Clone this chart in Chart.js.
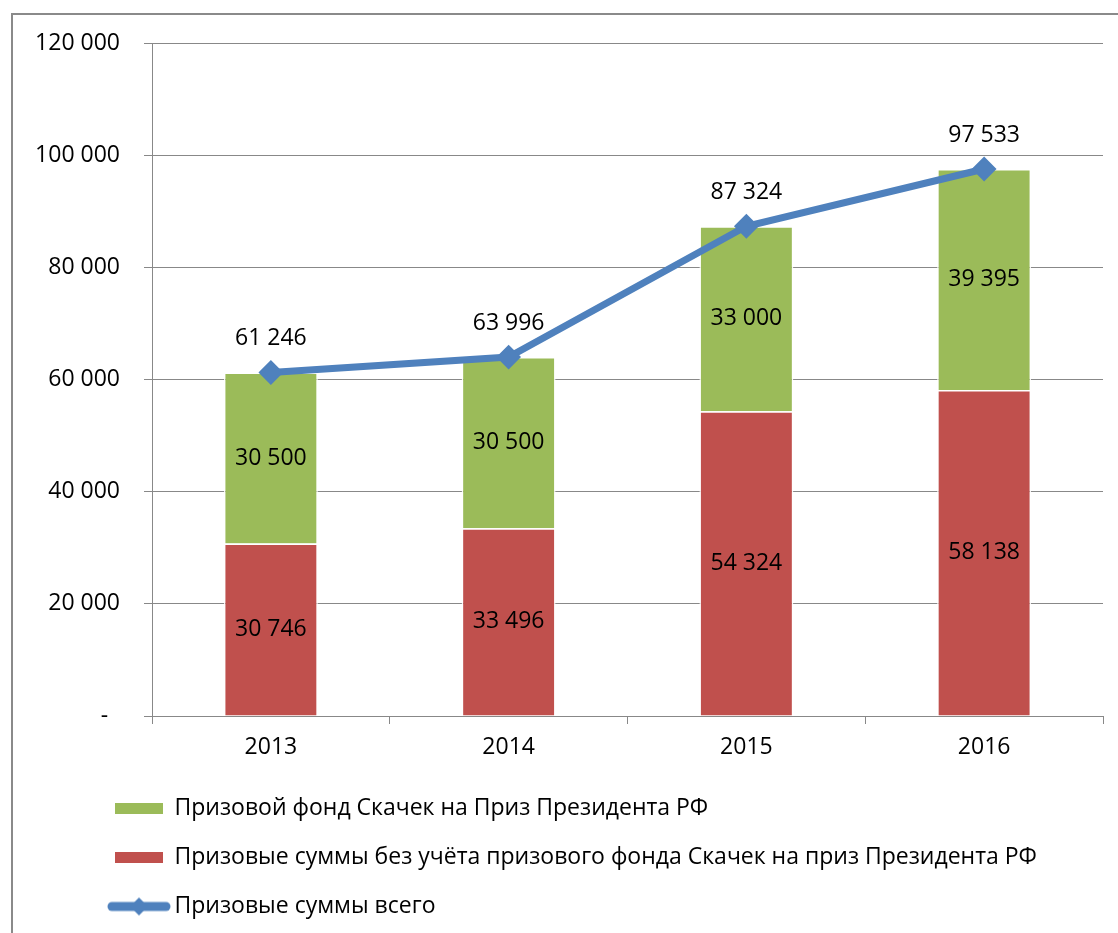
<!DOCTYPE html>
<html>
<head>
<meta charset="utf-8">
<script src="https://cdn.jsdelivr.net/npm/chart.js@4"></script>
<style>
  html, body { margin: 0; padding: 0; background: #fff; overflow: hidden; }
  #wrap { position: relative; width: 1118px; height: 933px; }
  #frame { position: absolute; left: 11px; top: 13px; width: 1200px; height: 1000px; border: 2px solid #8a8a8a; }
  #chart { position: absolute; left: 0; top: 0; }
</style>
</head>
<body>
<div id="wrap">
  <div id="frame"></div>
  <canvas id="chart" width="1118" height="933"></canvas>
</div>
<script>
//chart data
const years = ['2013', '2014', '2015', '2016'];
const withoutPresident = [30746, 33496, 54324, 58138];
const presidentFund = [30500, 30500, 33000, 39395];
const totalSums = [61246, 63996, 87324, 97533];
const yTicks = [0, 20000, 40000, 60000, 80000, 100000, 120000];

const labelGreen = 'Призовой фонд Скачек на Приз Президента РФ';
const labelRed = 'Призовые суммы без учёта призового фонда Скачек на приз Президента РФ';
const labelBlue = 'Призовые суммы всего';

const RED = '#C0504D';
const GREEN = '#9BBB59';
const BLUE = '#4F81BD';
const GRID = '#888888';
const FONT = "'Open Sans', 'Noto Sans', sans-serif";

Chart.defaults.font.family = FONT;
Chart.defaults.font.size = 23;
Chart.defaults.color = '#000';

//number with space as thousands separator
const fmt = (n) => String(n).replace(/\B(?=(\d{3})+(?!\d))/g, ' ');

//legend marker for the line series: thick line with a diamond
const lineMarker = document.createElement('canvas');
lineMarker.width = 64;
lineMarker.height = 22;
{
    const c = lineMarker.getContext('2d');
    c.strokeStyle = BLUE;
    c.lineWidth = 9;
    c.lineCap = 'round';
    c.beginPath();
    c.moveTo(5, 11);
    c.lineTo(59, 11);
    c.stroke();
    c.fillStyle = BLUE;
    c.beginPath();
    c.moveTo(32, 2);
    c.lineTo(41, 11);
    c.lineTo(32, 20);
    c.lineTo(23, 11);
    c.closePath();
    c.fill();
}

//draws the value labels
const valueLabels = {
    id: 'valueLabels',
    afterLayout(chart) {
        //move legend to the right so it starts under the axis labels
        chart.legend.left = 89;
    },
    afterDatasetsDraw(chart) {
        const ctx = chart.ctx;
        ctx.save();
        ctx.font = '23px ' + FONT;
        ctx.fillStyle = '#000';
        ctx.textAlign = 'center';
        ctx.textBaseline = 'middle';
        chart.data.datasets.forEach((ds, i) => {
            const meta = chart.getDatasetMeta(i);
            meta.data.forEach((el, j) => {
                const v = ds.data[j];
                if (meta.type === 'bar') {
                    ctx.fillText(fmt(v), el.x, (el.y + el.base) / 2);
                } else {
                    ctx.fillText(fmt(v), el.x, el.y - 34);
                }
            });
        });
        ctx.restore();
    }
};

const legendOrder = [1, 0, 2];

const chart = new Chart(document.getElementById('chart').getContext('2d'), {
    type: 'bar',
    data: {
        labels: years,
        datasets: [
            {
                label: labelRed,
                data: withoutPresident,
                backgroundColor: RED,
                borderColor: 'rgba(255,255,255,0.9)',
                borderWidth: 1.5,
                stack: 'fund',
                pointStyle: 'rect',
                barPercentage: 0.395,
                categoryPercentage: 1,
            },
            {
                label: labelGreen,
                data: presidentFund,
                backgroundColor: GREEN,
                borderColor: 'rgba(255,255,255,0.9)',
                borderWidth: 1.5,
                stack: 'fund',
                pointStyle: 'rect',
                barPercentage: 0.395,
                categoryPercentage: 1,
            },
            {
                type: 'line',
                label: labelBlue,
                data: totalSums,
                borderColor: BLUE,
                backgroundColor: BLUE,
                borderWidth: 7,
                pointStyle: 'rectRot',
                pointRadius: 11,
                pointBorderWidth: 2,
                pointBackgroundColor: BLUE,
                pointBorderColor: BLUE,
                stack: 'total',
                order: -1,
                tension: 0,
            },
        ],
    },
    options: {
        responsive: false,
        animation: false,
        events: [],
        layout: {
            padding: { left: 12, right: 15, top: 43, bottom: 5 },
        },
        scales: {
            x: {
                stacked: true,
                grid: {
                    drawOnChartArea: false,
                    drawTicks: true,
                    tickLength: 8,
                    color: GRID,
                },
                border: { color: GRID },
                ticks: { padding: 10 },
                afterFit: (s) => { s.height = 55; },
            },
            y: {
                stacked: true,
                min: 0,
                max: 120000,
                afterBuildTicks: (s) => { s.ticks = yTicks.map((v) => ({ value: v })); },
                grid: {
                    color: GRID,
                    tickLength: 8,
                },
                border: { color: GRID },
                ticks: {
                    padding: 24,
                    callback: (v) => (v === 0 ? '-  ' : fmt(v)),
                },
                afterFit: (s) => { s.width = 140; },
            },
        },
        plugins: {
            tooltip: { enabled: false },
            legend: {
                position: 'bottom',
                align: 'start',
                labels: {
                    usePointStyle: true,
                    pointStyleWidth: 48,
                    boxHeight: 11,
                    padding: 26,
                    color: '#000',
                    sort: (a, b) => legendOrder.indexOf(a.datasetIndex) - legendOrder.indexOf(b.datasetIndex),
                    generateLabels: (chart) => {
                        const items = Chart.defaults.plugins.legend.labels.generateLabels(chart);
                        items.forEach((item) => {
                            if (item.datasetIndex === 2) {
                                item.pointStyle = lineMarker;
                            } else {
                                item.pointStyle = 'rect';
                                item.lineWidth = 0;
                                item.strokeStyle = item.fillStyle;
                            }
                        });
                        return items;
                    },
                },
            },
        },
    },
    plugins: [valueLabels],
});
</script>
</body>
</html>
